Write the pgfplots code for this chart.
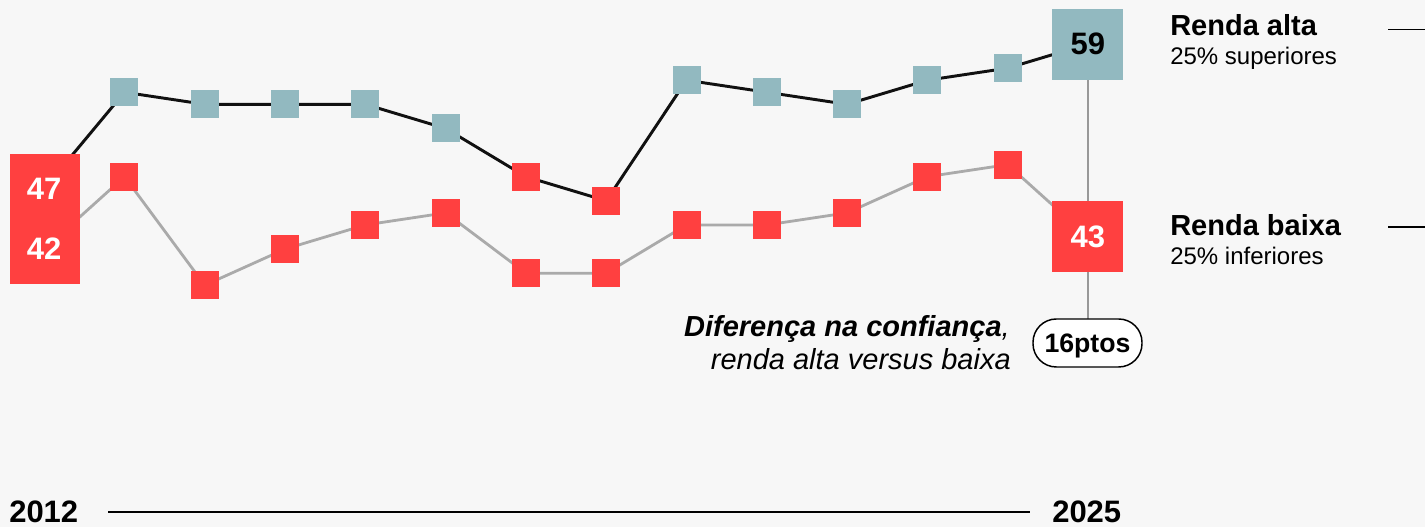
\documentclass[border=0pt]{standalone}
\usepackage{pgfplots}
\pgfplotsset{compat=1.18}
\usepackage{fontspec}
\setmainfont{Liberation Sans}
\definecolor{bg}{HTML}{F7F7F7}
\definecolor{tealb}{HTML}{92B9C0}
\definecolor{redb}{HTML}{FF4040}
\definecolor{lgray}{HTML}{AAAAAA}
\definecolor{vgray}{HTML}{999999}
\definecolor{lineblack}{HTML}{111111}
\newcommand{\fsz}[1]{\fontsize{#1}{1.2\dimexpr#1\relax}\selectfont}
\begin{document}
\begin{tikzpicture}
% pixel-based scope: 1px = 0.75pt, origin top-left, y downward
\begin{scope}[x=0.75pt,y=-0.75pt,shift={(0pt,395.25pt)}]
  \fill[bg] (0,0) rectangle (1425,527);
  \draw[vgray, line width=1.1pt] (1088,44) -- (1088,319);
\end{scope}

\begin{axis}[at={(0pt,0pt)}, anchor=south west, scale only axis,
  width=1068.75pt, height=395.25pt,
  xmin=2011.4495, xmax=2029.198, ymin=18.954, ymax=62.652,
  hide axis, clip=false]
  % lines
  \addplot[lgray, line width=2.1pt] coordinates {
    (2012,42) (2013,48) (2014,39) (2015,42) (2016,44) (2017,45) (2018,40)
    (2019,40) (2020,44) (2021,44) (2022,45) (2023,48) (2024,49) (2025,43)};
  \addplot[lineblack, line width=2.2pt] coordinates {
    (2012,47) (2013,55) (2014,54) (2015,54) (2016,54) (2017,52) (2018,48)
    (2019,46) (2020,56) (2021,55) (2022,54) (2023,56) (2024,57) (2025,59)};
  % small markers
  \addplot[only marks, mark=square*, mark size=10.125pt,
    mark options={fill=tealb, draw=tealb, line width=0pt}] coordinates {
    (2013,55) (2014,54) (2015,54) (2016,54) (2017,52)
    (2020,56) (2021,55) (2022,54) (2023,56) (2024,57)};
  \addplot[only marks, mark=square*, mark size=10.125pt,
    mark options={fill=redb, draw=redb, line width=0pt}] coordinates {
    (2018,48) (2019,46)
    (2013,48) (2014,39) (2015,42) (2016,44) (2017,45) (2018,40)
    (2019,40) (2020,44) (2021,44) (2022,45) (2023,48) (2024,49)};
  % 2012 box
  \addplot[fill=redb, draw=none] coordinates {
    (2011.574,39.103) (2012.446,39.103) (2012.446,49.883) (2011.574,49.883)} -- cycle;
  \addplot[draw=none, nodes near coords, point meta=explicit symbolic,
    every node near coord/.append style={anchor=center, inner sep=0pt,
      text=white, font=\fsz{23.25pt}\bfseries}] coordinates {
    (2012,47) [47] (2012,42) [42]};
  % 2025 boxes
  \addplot[only marks, mark=square*, mark size=26.25pt,
    mark options={fill=tealb, draw=tealb, line width=0pt},
    nodes near coords, point meta=explicit symbolic,
    every node near coord/.append style={anchor=center, inner sep=0pt,
      text=black, font=\fsz{23.25pt}\bfseries}] coordinates {(2025,59) [59]};
  \addplot[only marks, mark=square*, mark size=26.25pt,
    mark options={fill=redb, draw=redb, line width=0pt},
    nodes near coords, point meta=explicit symbolic,
    every node near coord/.append style={anchor=center, inner sep=0pt,
      text=white, font=\fsz{23.25pt}\bfseries}] coordinates {(2025,43) [43]};
\end{axis}

\begin{scope}[x=0.75pt,y=-0.75pt,shift={(0pt,395.25pt)}]
  % legend-like labels
  \node[anchor=base west, inner sep=0pt, font=\fsz{21.75pt}\bfseries] at (1170,36) {Renda alta};
  \node[anchor=base west, inner sep=0pt, font=\fsz{18pt}] at (1170,65) {25\% superiores};
  \node[anchor=base west, inner sep=0pt, font=\fsz{21.75pt}\bfseries] at (1170,236) {Renda baixa};
  \node[anchor=base west, inner sep=0pt, font=\fsz{18pt}] at (1170,265) {25\% inferiores};
  \draw[black, line width=0.9pt] (1388,29.5) -- (1425,29.5);
  \draw[black, line width=0.9pt] (1388,227) -- (1425,227);
  % difference annotation
  \node[anchor=base east, inner sep=0pt, font=\fsz{21.75pt}\itshape] at (1010,337) {\textbf{Diferença na confiança},};
  \node[anchor=base east, inner sep=0pt, font=\fsz{21.75pt}\itshape] at (1011,370) {renda alta versus baixa};
  \draw[black, line width=1.1pt, fill=white, rounded corners=17.5pt] (1033,319) rectangle (1142,367);
  \node[anchor=base, inner sep=0pt, font=\fsz{20pt}\bfseries] at (1087.5,352.5) {16ptos};
  % bottom time axis
  \node[anchor=base west, inner sep=0pt, font=\fsz{23.25pt}\bfseries] at (9,523) {2012};
  \node[anchor=base west, inner sep=0pt, font=\fsz{23.25pt}\bfseries] at (1052,523) {2025};
  \draw[black, line width=1.1pt] (108,512) -- (1030,512);
  \pgfresetboundingbox
  \path[use as bounding box] (0,0) rectangle (1425,527);
\end{scope}
\end{tikzpicture}
\end{document}
